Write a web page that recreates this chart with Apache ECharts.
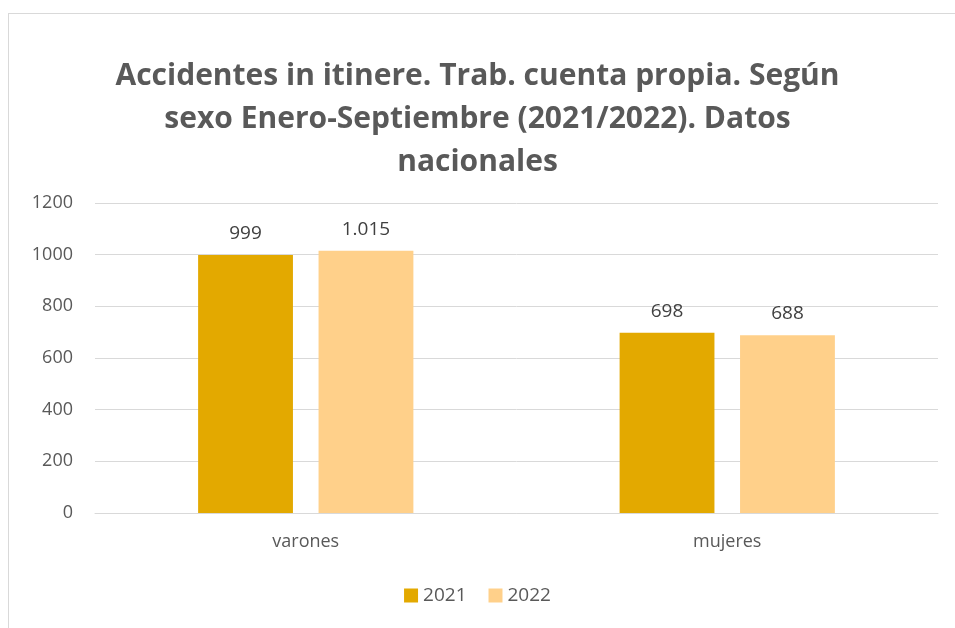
<!DOCTYPE html>
<html>
<head>
<meta charset="utf-8">
<script src="https://cdn.jsdelivr.net/npm/echarts@6/dist/echarts.min.js"></script>
<style>
  html, body { margin: 0; padding: 0; background: #fff; }
  #frame { position: absolute; left: 8px; top: 13px; width: 960px; height: 640px;
    border-left: 1px solid #d9d9d9; border-top: 1px solid #d9d9d9; }
  #chart { position: absolute; left: 0; top: 0; width: 955px; height: 628px; }
</style>
</head>
<body>
<div id="frame"></div>
<div id="chart"></div>
<script>
const categories = ['varones', 'mujeres']
const seriesNames = ['2021', '2022']
const values2021 = [999, 698]
const values2022 = [1015, 688]
const colors = ['#E3A900', '#FFD08A']

const chart = echarts.init(document.getElementById('chart'))
const fmt = v => v.value >= 1000 ? Math.floor(v.value / 1000) + '.' + String(v.value % 1000).padStart(3, '0') : String(v.value)

chart.setOption({
  animation: false,
  title: {
    text: 'Accidentes in itinere. Trab. cuenta propia. Según\nsexo Enero-Septiembre (2021/2022). Datos\nnacionales',
    left: 'center',
    top: 50,
    textStyle: { fontFamily: 'Open Sans', fontWeight: 'bold', fontSize: 30, color: '#595959', lineHeight: 43 }
  },
  legend: {
    data: seriesNames,
    bottom: 18,
    left: 'center',
    itemWidth: 14,
    itemHeight: 14,
    icon: 'rect',
    itemGap: 22,
    textStyle: { fontFamily: 'Open Sans', fontSize: 19, color: '#595959' }
  },
  grid: { left: 95, right: 17, top: 203, bottom: 115 },
  xAxis: {
    type: 'category',
    data: categories,
    axisLine: { lineStyle: { color: '#d9d9d9' } },
    axisTick: { show: false },
    axisLabel: { fontFamily: 'Open Sans', fontSize: 18, color: '#595959', margin: 20 }
  },
  yAxis: {
    type: 'value',
    min: 0,
    max: 1200,
    interval: 200,
    axisLine: { show: false },
    axisTick: { show: false },
    splitLine: { lineStyle: { color: '#d9d9d9' } },
    axisLabel: { fontFamily: 'Open Sans', fontSize: 18, color: '#595959', margin: 22, formatter: v => String(v) }
  },
  series: [
    {
      name: seriesNames[0], type: 'bar', data: values2021, barWidth: '22.5%', barGap: '27%',
      itemStyle: { color: colors[0] },
      label: { show: true, position: 'top', distance: 12, formatter: fmt, fontFamily: 'Open Sans', fontSize: 19, color: '#404040' }
    },
    {
      name: seriesNames[1], type: 'bar', data: values2022, barWidth: '22.5%',
      itemStyle: { color: colors[1] },
      label: { show: true, position: 'top', distance: 12, formatter: fmt, fontFamily: 'Open Sans', fontSize: 19, color: '#404040' }
    }
  ]
})
</script>
</body>
</html>
